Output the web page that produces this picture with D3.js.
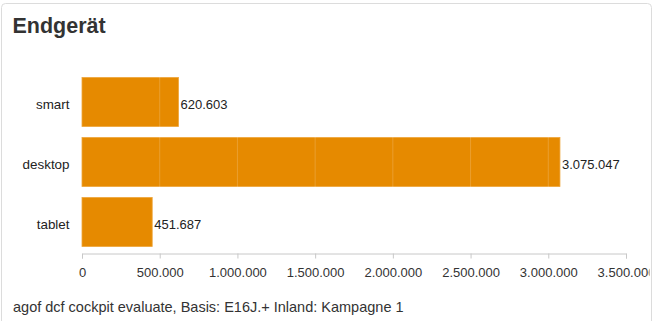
<!DOCTYPE html>
<html>
<head>
<meta charset="utf-8">
<script src="https://cdn.jsdelivr.net/npm/d3@7"></script>
<style>
  body { margin: 0; background: #fff; }
  svg { display: block; font-family: "Liberation Sans", Arial, sans-serif; }
</style>
</head>
<body>
<script>
const categories = ["smart", "desktop", "tablet"];
const values = [620603, 3075047, 451687];
const tickValues = [0, 500000, 1000000, 1500000, 2000000, 2500000, 3000000, 3500000];
const title = "Endgerät";
const footer = "agof dcf cockpit evaluate, Basis: E16J.+ Inland: Kampagne 1";

const width = 654;
const height = 321;

const fmt = d3.formatLocale({decimal: ",", thousands: ".", grouping: [3], currency: ["", "€"]}).format(",d");

const svg = d3.select("body").append("svg")
  .attr("width", width)
  .attr("height", height);

// card clip so the last tick label is cut off like in the original
svg.append("clipPath").attr("id", "card")
  .append("rect").attr("x", 1.5).attr("y", 3.5).attr("width", 648).attr("height", 330).attr("rx", 4);

// card
svg.append("rect")
  .attr("x", 1.5).attr("y", 3.5)
  .attr("width", 650).attr("height", 330)
  .attr("rx", 4)
  .attr("fill", "#fff")
  .attr("stroke", "#dcdcdc");

const g = svg.append("g").attr("clip-path", "url(#card)");

g.append("text")
  .attr("x", 12.5).attr("y", 33)
  .attr("font-size", 21.5)
  .attr("font-weight", "bold")
  .attr("fill", "#333")
  .text(title);

const x = d3.scaleLinear()
  .domain([0, 3500000])
  .range([82, 626]);

const y = d3.scaleBand()
  .domain(categories)
  .range([72, 252])
  .paddingInner(0.183)
  .paddingOuter(0.0915);

// bars
g.selectAll("rect.bar")
  .data(categories)
  .join("rect")
  .attr("class", "bar")
  .attr("x", x(0))
  .attr("y", d => y(d))
  .attr("width", (d, i) => x(values[i]) - x(0))
  .attr("height", y.bandwidth())
  .attr("fill", "#e68a00")
  .attr("stroke", "#eea53a")
  .attr("stroke-width", 0.8);

// faint grid lines (white, only visible on the bars)
g.selectAll("line.grid")
  .data(tickValues.slice(1))
  .join("line")
  .attr("class", "grid")
  .attr("x1", d => x(d)).attr("x2", d => x(d))
  .attr("y1", 72).attr("y2", 252)
  .attr("stroke", "#fff")
  .attr("stroke-opacity", 0.18);

// category labels
g.selectAll("text.cat")
  .data(categories)
  .join("text")
  .attr("class", "cat")
  .attr("x", 69.5)
  .attr("y", d => y(d) + y.bandwidth() / 2)
  .attr("dy", "0.5em")
  .attr("text-anchor", "end")
  .attr("font-size", 13.4)
  .attr("fill", "#222")
  .text(d => d);

// value labels
g.selectAll("text.val")
  .data(categories)
  .join("text")
  .attr("class", "val")
  .attr("x", (d, i) => x(values[i]) + 2)
  .attr("y", d => y(d) + y.bandwidth() / 2)
  .attr("dy", "0.5em")
  .attr("font-size", 13)
  .attr("fill", "#222")
  .text((d, i) => fmt(values[i]));

// x axis
const axis = g.append("g")
  .attr("transform", "translate(0,253.5)")
  .call(d3.axisBottom(x).tickValues(tickValues).tickFormat(fmt).tickSize(5).tickPadding(9));
axis.select(".domain").attr("stroke", "#c8c8c8");
axis.selectAll(".tick line").attr("stroke", "#c8c8c8");
axis.selectAll(".tick text")
  .attr("font-size", 13)
  .attr("font-family", "Liberation Sans, Arial, sans-serif")
  .attr("fill", "#333");

g.append("text")
  .attr("x", 13).attr("y", 312)
  .attr("font-size", 14.5)
  .attr("fill", "#333")
  .text(footer);
</script>
</body>
</html>
